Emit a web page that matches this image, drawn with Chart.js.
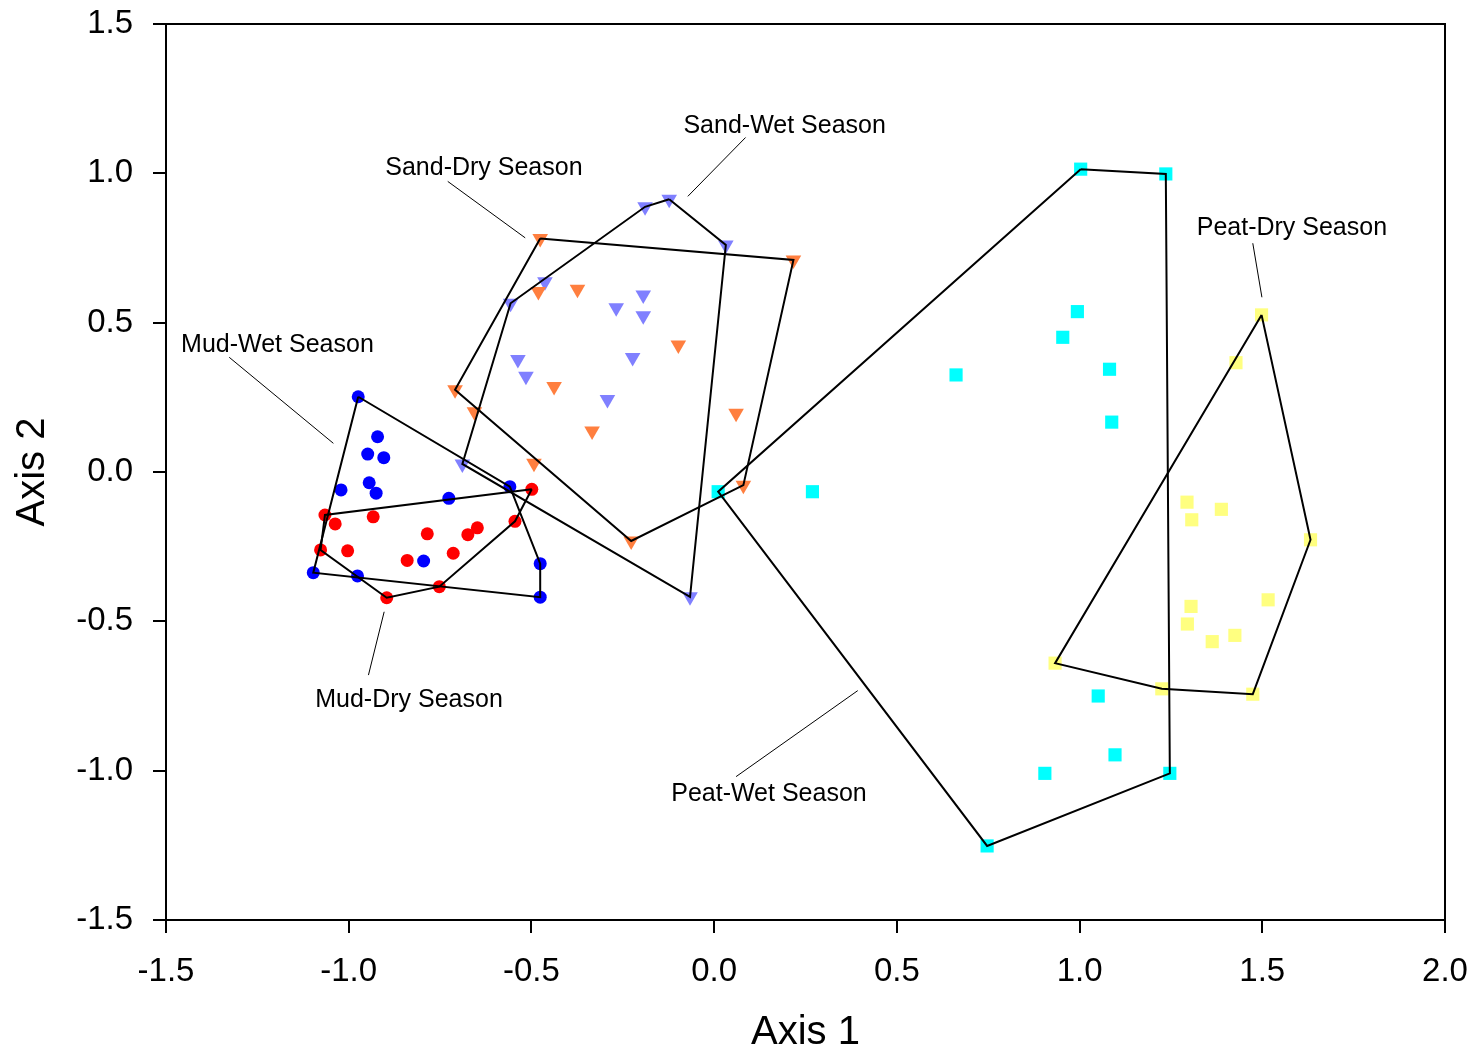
<!DOCTYPE html>
<html>
<head>
<meta charset="utf-8">
<title>Axis 1 vs Axis 2</title>
<script src="https://cdn.jsdelivr.net/npm/chart.js@4.4.1/dist/chart.umd.min.js"></script>
<style>
  html, body { margin: 0; padding: 0; background: #fff; }
  #wrap { width: 1480px; height: 1055px; }
</style>
</head>
<body>
<div id="wrap"><canvas id="chart" width="1480" height="1055"></canvas></div>
<script>
// ordination scores
const mudWetX = [-0.974, -0.921, -0.948, -0.904, -1.021, -0.944, -0.925, -0.726, -0.559, -0.795, -1.097, -0.976, -0.476, -0.476];
const mudWetY = [0.252, 0.118, 0.060, 0.048, -0.060, -0.036, -0.071, -0.088, -0.049, -0.298, -0.337, -0.348, -0.307, -0.419];
const mudWetHull = [0, 8, 12, 13, 10, 0];

const mudDryX = [-0.499, -1.065, -1.037, -0.933, -1.077, -1.003, -0.785, -0.674, -0.648, -0.545, -0.840, -0.714, -0.752, -0.896];
const mudDryY = [-0.058, -0.144, -0.174, -0.150, -0.261, -0.264, -0.207, -0.210, -0.187, -0.165, -0.296, -0.272, -0.384, -0.421];
const mudDryHull = [0, 1, 4, 13, 12, 9, 0];

const sandDryX = [-0.476, 0.217, -0.481, -0.374, -0.098, -0.438, -0.709, -0.656, 0.060, -0.334, -0.493, 0.080, -0.227];
const sandDryY = [0.782, 0.710, 0.604, 0.612, 0.425, 0.286, 0.275, 0.202, 0.197, 0.137, 0.029, -0.044, -0.231];
const sandDryHull = [0, 1, 11, 12, 6, 0];

const sandWetX = [-0.189, -0.123, 0.032, -0.463, -0.557, -0.194, -0.268, -0.194, -0.537, -0.223, -0.515, -0.292, -0.689, -0.066];
const sandWetY = [0.888, 0.913, 0.760, 0.637, 0.565, 0.593, 0.550, 0.523, 0.377, 0.383, 0.321, 0.243, 0.027, -0.418];
const sandWetHull = [1, 2, 13, 12, 4, 0, 1];

const peatWetX = [1.003, 1.236, 0.994, 0.954, 0.662, 1.082, 1.088, 0.011, 0.269, 1.051, 1.097, 0.905, 1.247, 0.747];
const peatWetY = [1.014, 0.998, 0.537, 0.451, 0.325, 0.344, 0.167, -0.066, -0.066, -0.750, -0.947, -1.009, -1.009, -1.252];
const peatWetHull = [0, 1, 12, 13, 7, 0];

const peatDryX = [1.498, 1.428, 1.294, 1.388, 1.307, 1.632, 1.516, 1.305, 1.295, 1.425, 1.363, 0.933, 1.225, 1.474];
const peatDryY = [0.526, 0.366, -0.101, -0.125, -0.160, -0.227, -0.428, -0.450, -0.509, -0.547, -0.568, -0.640, -0.726, -0.744];
const peatDryHull = [0, 5, 13, 12, 11, 0];

const xTicks = [-1.5, -1.0, -0.5, 0.0, 0.5, 1.0, 1.5, 2.0];
const yTicks = [-1.5, -1.0, -0.5, 0.0, 0.5, 1.0, 1.5];

// group labels with leader lines, in axis units
const seasonLabels = [
  { text: 'Sand-Wet Season', x: 0.193, y: 1.135, from: [0.086, 1.120], to: [-0.072, 0.923] },
  { text: 'Sand-Dry Season', x: -0.630, y: 0.996, from: [-0.729, 0.973], to: [-0.517, 0.784] },
  { text: 'Mud-Wet Season', x: -1.195, y: 0.401, from: [-1.327, 0.384], to: [-1.042, 0.096] },
  { text: 'Mud-Dry Season', x: -0.835, y: -0.786, from: [-0.903, -0.468], to: [-0.946, -0.680] },
  { text: 'Peat-Wet Season', x: 0.150, y: -1.100, from: [0.393, -0.732], to: [0.060, -1.020] },
  { text: 'Peat-Dry Season', x: 1.581, y: 0.793, from: [1.474, 0.766], to: [1.499, 0.585] }
];

const FONT = '"Liberation Sans", Arial, Helvetica, sans-serif';

function pts(xs, ys) {
  return xs.map((x, i) => ({ x, y: ys[i] }));
}

function hull(xs, ys, idx) {
  return idx.map(i => ({ x: xs[i], y: ys[i] }));
}

function markers(label, xs, ys, style, color, radius, rotation) {
  return {
    label,
    data: pts(xs, ys),
    pointStyle: style,
    pointRadius: radius,
    pointRotation: rotation || 0,
    pointBackgroundColor: color,
    pointBorderColor: color,
    pointBorderWidth: 0,
    showLine: false,
    order: 1
  };
}

function outline(label, xs, ys, idx) {
  return {
    label,
    data: hull(xs, ys, idx),
    showLine: true,
    borderColor: '#000',
    borderWidth: 2,
    pointRadius: 0,
    fill: false,
    tension: 0,
    order: 0
  };
}

const frame = {
  id: 'frame',
  afterDatasetsDraw(chart) {
    const { ctx, chartArea: a, scales } = chart;
    ctx.save();
    ctx.strokeStyle = '#000';
    ctx.lineWidth = 2;
    ctx.strokeRect(a.left, a.top, a.right - a.left, a.bottom - a.top);

    // labels and leader lines
    ctx.lineWidth = 1;
    ctx.fillStyle = '#000';
    ctx.font = '25px ' + FONT;
    ctx.textAlign = 'center';
    ctx.textBaseline = 'alphabetic';
    seasonLabels.forEach(l => {
      const sx = scales.x, sy = scales.y;
      ctx.beginPath();
      ctx.moveTo(sx.getPixelForValue(l.from[0]), sy.getPixelForValue(l.from[1]));
      ctx.lineTo(sx.getPixelForValue(l.to[0]), sy.getPixelForValue(l.to[1]));
      ctx.stroke();
      ctx.fillText(l.text, sx.getPixelForValue(l.x), sy.getPixelForValue(l.y));
    });
    ctx.restore();
  }
};

new Chart(document.getElementById('chart'), {
  type: 'scatter',
  data: {
    datasets: [
      outline('Mud-Wet hull', mudWetX, mudWetY, mudWetHull),
      outline('Mud-Dry hull', mudDryX, mudDryY, mudDryHull),
      outline('Sand-Dry hull', sandDryX, sandDryY, sandDryHull),
      outline('Sand-Wet hull', sandWetX, sandWetY, sandWetHull),
      outline('Peat-Wet hull', peatWetX, peatWetY, peatWetHull),
      outline('Peat-Dry hull', peatDryX, peatDryY, peatDryHull),
      markers('Mud-Wet Season', mudWetX, mudWetY, 'circle', '#0000ff', 6.5),
      markers('Mud-Dry Season', mudDryX, mudDryY, 'circle', '#ff0000', 6.5),
      markers('Sand-Dry Season', sandDryX, sandDryY, 'triangle', '#ff7f3f', 9, 180),
      markers('Sand-Wet Season', sandWetX, sandWetY, 'triangle', '#8080ff', 9, 180),
      markers('Peat-Wet Season', peatWetX, peatWetY, 'rect', '#00ffff', 9.3),
      markers('Peat-Dry Season', peatDryX, peatDryY, 'rect', '#ffff80', 9.3)
    ]
  },
  options: {
    responsive: false,
    animation: false,
    layout: { padding: { top: 24, right: 35, left: 0, bottom: 0 } },
    plugins: { legend: { display: false }, tooltip: { enabled: false } },
    scales: {
      x: {
        type: 'linear',
        min: -1.5,
        max: 2.0,
        afterBuildTicks: s => { s.ticks = xTicks.map(v => ({ value: v })); },
        afterFit: s => { s.height = 135; s.paddingLeft = 0; s.paddingRight = 0; },
        ticks: {
          color: '#000',
          font: { family: FONT, size: 33 },
          padding: 19,
          maxRotation: 0,
          callback: v => v.toFixed(1)
        },
        grid: { drawOnChartArea: false, color: '#000', lineWidth: 2, tickLength: 13 },
        border: { display: true, color: '#000', width: 2 },
        title: {
          display: true,
          text: 'Axis 1',
          color: '#000',
          font: { family: FONT, size: 40, lineHeight: 1 },
          padding: { top: 0, bottom: 2 }
        }
      },
      y: {
        type: 'linear',
        min: -1.5,
        max: 1.5,
        afterBuildTicks: s => { s.ticks = yTicks.map(v => ({ value: v })); },
        afterFit: s => { s.width = 166; s.paddingTop = 0; s.paddingBottom = 0; },
        ticks: {
          color: '#000',
          font: { family: FONT, size: 33 },
          padding: 20,
          callback: v => v.toFixed(1)
        },
        grid: { drawOnChartArea: false, color: '#000', lineWidth: 2, tickLength: 13 },
        border: { display: true, color: '#000', width: 2 },
        title: {
          display: true,
          text: 'Axis 2',
          color: '#000',
          font: { family: FONT, size: 40, lineHeight: 1 },
          padding: { top: 13, bottom: 0 }
        }
      }
    }
  },
  plugins: [frame]
});
</script>
</body>
</html>
